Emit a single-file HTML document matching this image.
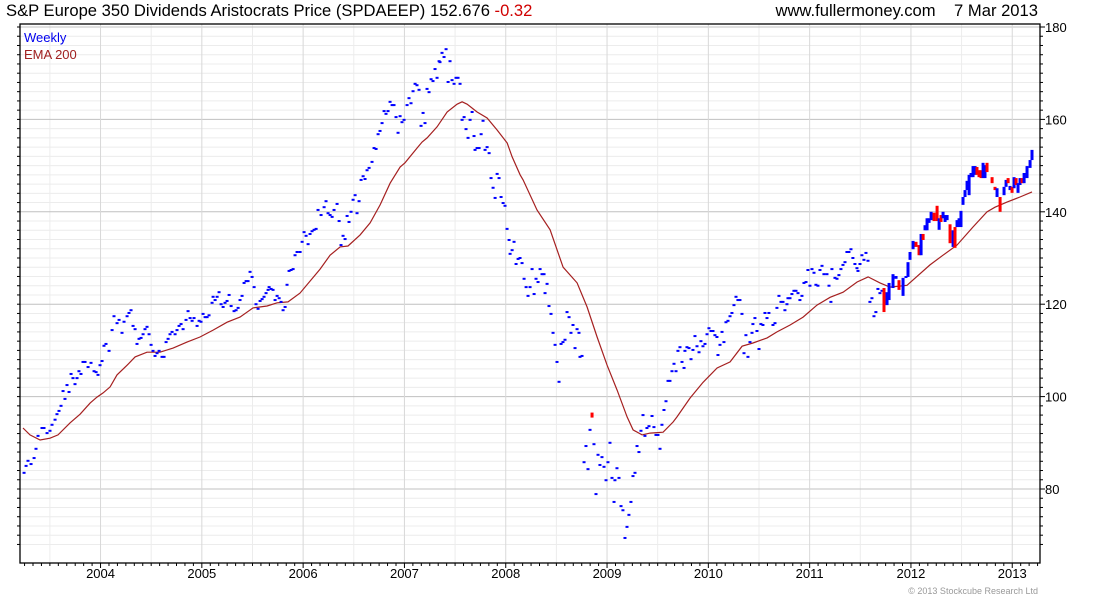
<!DOCTYPE html>
<html><head><meta charset="utf-8">
<style>
html,body{margin:0;padding:0;background:#fff;}
body{width:1100px;height:600px;overflow:hidden;font-family:"Liberation Sans",sans-serif;}
svg text{font-family:"Liberation Sans",sans-serif;}
</style></head>
<body>
<svg id="chart" width="1100" height="600" xmlns="http://www.w3.org/2000/svg">
  <g id="grid"></g>
  <g id="ema"></g>
  <g id="marks"></g>
  <g id="axes"></g>
  <text x="6" y="16" font-size="16.6" fill="#000">S&amp;P Europe 350 Dividends Aristocrats Price (SPDAEEP) 152.676 <tspan fill="#d00000">-0.32</tspan></text>
  <text x="1038" y="16" font-size="16.6" text-anchor="end" fill="#000">www.fullermoney.com&#160;&#160;&#160;&#160;7 Mar 2013</text>
  <text x="24" y="42" font-size="13" fill="#0000ee">Weekly</text>
  <text x="24" y="59" font-size="13" fill="#a02020">EMA 200</text>
  <text x="1038" y="594" font-size="9" text-anchor="end" fill="#999">© 2013 Stockcube Research Ltd</text>
</svg>
<script>
const closeDates=[2003.245,2003.265,2003.284,2003.314,2003.344,2003.363,2003.383,2003.422,2003.442,2003.472,2003.501,2003.521,2003.551,2003.570,2003.590,2003.610,2003.630,2003.649,2003.669,2003.689,2003.709,2003.728,2003.748,2003.768,2003.787,2003.807,2003.827,2003.847,2003.877,2003.906,2003.936,2003.956,2003.975,2003.995,2004.015,2004.034,2004.054,2004.084,2004.114,2004.133,2004.163,2004.183,2004.212,2004.232,2004.262,2004.281,2004.301,2004.321,2004.341,2004.360,2004.380,2004.400,2004.420,2004.439,2004.459,2004.479,2004.499,2004.518,2004.538,2004.558,2004.578,2004.607,2004.627,2004.647,2004.667,2004.686,2004.706,2004.736,2004.755,2004.775,2004.795,2004.815,2004.844,2004.864,2004.884,2004.904,2004.923,2004.953,2004.973,2004.992,2005.012,2005.032,2005.052,2005.071,2005.101,2005.111,2005.131,2005.151,2005.170,2005.190,2005.210,2005.229,2005.249,2005.269,2005.289,2005.318,2005.338,2005.358,2005.377,2005.397,2005.417,2005.437,2005.456,2005.476,2005.496,2005.516,2005.535,2005.555,2005.575,2005.595,2005.614,2005.634,2005.654,2005.664,2005.684,2005.703,2005.723,2005.743,2005.763,2005.782,2005.802,2005.822,2005.841,2005.861,2005.881,2005.901,2005.920,2005.940,2005.970,2005.990,2006.009,2006.029,2006.049,2006.068,2006.088,2006.108,2006.128,2006.147,2006.177,2006.207,2006.226,2006.246,2006.266,2006.286,2006.305,2006.335,2006.355,2006.374,2006.394,2006.414,2006.434,2006.453,2006.473,2006.493,2006.513,2006.532,2006.552,2006.572,2006.592,2006.611,2006.631,2006.651,2006.680,2006.700,2006.720,2006.740,2006.759,2006.779,2006.799,2006.818,2006.838,2006.858,2006.878,2006.897,2006.917,2006.937,2006.957,2006.976,2006.996,2007.026,2007.045,2007.065,2007.085,2007.105,2007.124,2007.144,2007.164,2007.184,2007.203,2007.223,2007.243,2007.263,2007.282,2007.302,2007.322,2007.342,2007.351,2007.371,2007.391,2007.411,2007.431,2007.450,2007.470,2007.490,2007.509,2007.529,2007.549,2007.569,2007.589,2007.608,2007.628,2007.648,2007.668,2007.687,2007.697,2007.717,2007.737,2007.757,2007.776,2007.796,2007.816,2007.836,2007.855,2007.875,2007.895,2007.915,2007.934,2007.954,2007.974,2007.993,2008.013,2008.033,2008.043,2008.063,2008.082,2008.102,2008.122,2008.141,2008.161,2008.181,2008.201,2008.220,2008.240,2008.260,2008.280,2008.299,2008.319,2008.339,2008.358,2008.378,2008.388,2008.408,2008.427,2008.447,2008.467,2008.487,2008.506,2008.526,2008.546,2008.565,2008.585,2008.605,2008.625,2008.644,2008.664,2008.684,2008.704,2008.723,2008.733,2008.753,2008.773,2008.792,2008.812,2008.832,2008.871,2008.891,2008.911,2008.930,2008.950,2008.970,2008.990,2009.009,2009.029,2009.049,2009.069,2009.078,2009.098,2009.118,2009.138,2009.157,2009.177,2009.197,2009.216,2009.236,2009.256,2009.276,2009.296,2009.315,2009.335,2009.355,2009.374,2009.394,2009.414,2009.444,2009.463,2009.483,2009.503,2009.523,2009.542,2009.562,2009.582,2009.602,2009.621,2009.641,2009.661,2009.681,2009.700,2009.720,2009.740,2009.760,2009.769,2009.789,2009.809,2009.829,2009.848,2009.868,2009.888,2009.908,2009.927,2009.947,2009.967,2009.987,2010.006,2010.026,2010.046,2010.065,2010.085,2010.095,2010.115,2010.135,2010.154,2010.174,2010.194,2010.214,2010.233,2010.253,2010.273,2010.292,2010.312,2010.332,2010.352,2010.371,2010.391,2010.411,2010.431,2010.440,2010.460,2010.480,2010.500,2010.519,2010.539,2010.559,2010.579,2010.598,2010.638,2010.658,2010.677,2010.697,2010.717,2010.737,2010.756,2010.776,2010.786,2010.806,2010.825,2010.845,2010.865,2010.885,2010.904,2010.924,2010.944,2010.964,2010.983,2011.003,2011.023,2011.043,2011.062,2011.082,2011.102,2011.122,2011.141,2011.171,2011.191,2011.210,2011.220,2011.250,2011.270,2011.289,2011.309,2011.329,2011.349,2011.368,2011.388,2011.408,2011.427,2011.447,2011.467,2011.477,2011.497,2011.516,2011.536,2011.556,2011.576,2011.595,2011.615,2011.635,2011.654,2011.674,2011.694,2011.714];
const closeValues=[83.5,85.0,86.1,85.4,86.7,88.7,91.5,93.2,93.2,92.1,92.6,93.9,95.0,96.2,96.9,98.0,101.2,99.5,102.5,101.0,104.9,104.0,102.7,104.0,105.5,104.9,107.5,107.5,106.4,107.3,105.5,105.3,104.7,106.8,107.7,111.0,111.4,109.9,114.4,117.4,115.9,116.6,113.8,116.2,117.4,118.1,118.7,115.3,114.6,111.4,112.5,112.7,113.5,114.6,115.1,113.5,111.2,109.9,108.8,109.4,109.9,108.6,108.6,111.8,112.5,113.5,114.0,113.5,114.4,115.3,115.7,114.6,116.6,118.5,117.0,116.4,117.0,115.3,116.4,116.2,117.9,117.2,117.2,117.6,120.3,121.6,120.9,121.6,122.6,120.0,119.4,120.3,120.7,122.0,119.6,118.5,118.7,119.2,120.9,121.8,124.6,125.0,125.0,127.0,125.9,123.7,120.0,119.0,120.7,121.1,121.6,122.4,123.1,123.7,123.3,123.1,120.9,121.8,121.3,120.5,118.7,119.4,124.2,127.2,127.4,127.6,130.6,131.3,131.3,133.5,135.6,134.8,133.0,135.2,135.8,136.1,136.3,140.4,139.3,141.0,142.3,139.7,139.3,138.9,140.4,141.7,138.0,132.8,134.8,134.1,139.1,137.8,140.0,142.6,143.6,139.7,142.3,146.9,147.7,147.1,149.0,149.5,150.8,153.8,153.6,156.8,157.5,159.2,161.8,161.2,161.8,163.8,163.1,163.1,160.5,157.1,160.7,159.4,159.9,163.1,164.6,163.5,166.1,167.7,167.4,166.4,158.6,161.4,159.2,166.6,165.9,168.7,168.3,170.9,169.0,172.6,172.4,174.4,173.5,175.2,168.1,172.6,168.5,167.7,169.0,169.0,167.7,159.9,160.5,157.9,156.0,159.9,161.6,156.4,153.4,153.8,153.8,156.8,159.7,153.4,154.0,152.7,147.3,145.2,143.0,148.2,147.3,143.2,141.9,141.3,136.3,133.9,130.9,131.7,133.5,128.7,129.8,130.0,128.9,125.5,123.7,121.8,123.7,127.6,122.2,125.5,124.8,127.6,126.5,126.5,122.4,124.4,119.6,117.9,113.8,111.2,107.5,103.2,111.4,111.8,112.3,118.3,117.2,113.8,115.5,110.5,114.6,113.8,108.6,108.8,85.8,89.3,84.3,92.8,89.7,78.9,87.4,85.2,86.9,84.8,81.9,85.8,90.0,82.4,77.2,81.9,84.5,82.4,76.3,75.4,69.4,71.8,74.4,77.2,82.8,83.5,89.3,88.0,92.6,96.0,91.5,93.2,93.6,95.8,93.4,91.7,91.7,88.7,93.9,97.1,99.0,103.4,103.4,105.5,107.1,105.5,109.9,110.7,107.5,106.2,109.9,110.7,110.5,108.1,110.1,113.1,110.9,109.6,112.0,110.9,111.4,113.5,114.8,114.2,114.2,113.3,112.9,109.0,111.2,114.0,111.8,116.1,116.4,117.4,118.1,119.8,121.6,120.9,120.9,117.9,109.4,113.3,108.6,111.8,113.8,115.7,117.0,114.2,110.3,115.7,115.5,118.1,117.0,118.1,115.5,115.9,119.2,121.8,120.5,120.5,118.7,120.0,121.3,121.3,122.2,122.9,122.9,122.4,120.9,121.8,124.6,124.8,127.4,124.0,127.6,126.8,124.2,124.0,127.4,128.3,126.5,126.5,124.0,120.5,127.6,125.7,125.5,126.3,127.6,128.5,129.1,131.3,131.3,131.9,130.0,128.7,127.8,127.2,128.7,130.6,129.6,131.1,129.4,120.5,121.3,117.4,118.3,123.3,122.4,122.9];
const candleDates=[2011.734,2011.764,2011.784,2011.823,2011.853,2011.882,2011.922,2011.951,2011.971,2011.991,2012.021,2012.050,2012.080,2012.100,2012.120,2012.139,2012.159,2012.179,2012.199,2012.228,2012.258,2012.278,2012.297,2012.317,2012.337,2012.357,2012.386,2012.416,2012.435,2012.455,2012.475,2012.494,2012.514,2012.534,2012.554,2012.574,2012.593,2012.613,2012.633,2012.652,2012.672,2012.692,2012.712,2012.731,2012.751,2012.801,2012.830,2012.850,2012.880,2012.919,2012.939,2012.959,2012.978,2012.998,2013.018,2013.038,2013.057,2013.077,2013.097,2013.117,2013.146,2013.176,2013.195];
const candleOpen=[123.5,119.8,120.9,123.5,125.5,125.2,121.8,125.7,125.9,129.6,131.9,133.5,132.8,130.6,135.2,136.0,136.0,137.6,138.2,139.8,141.3,136.1,139.3,138.6,137.8,138.2,137.3,132.4,136.7,136.7,136.7,136.7,141.5,143.2,144.7,143.6,147.5,147.5,148.0,149.7,149.0,149.0,147.3,147.3,150.6,147.5,145.4,143.2,143.2,143.6,145.4,147.3,144.7,145.4,145.1,147.3,144.1,145.8,147.3,146.2,147.3,149.5,151.2];
const candleClose=[118.3,122.6,124.6,126.5,126.1,123.1,125.7,126.1,129.1,131.3,133.7,132.4,130.6,135.2,133.9,137.1,138.6,138.6,140.0,138.0,138.0,138.6,137.8,140.0,139.3,139.3,133.2,136.0,132.2,138.2,138.6,140.2,143.2,144.7,146.7,148.0,148.4,149.9,149.9,148.0,147.5,147.3,150.6,150.1,148.6,146.2,144.7,145.1,140.0,145.4,146.9,146.2,145.6,144.1,147.5,145.8,146.2,147.3,146.2,148.4,149.9,151.2,153.4];
const spikeDates=[2008.852];
const spikeValues=[96.0];
const emaDates=[2003.235,2003.304,2003.403,2003.501,2003.580,2003.699,2003.798,2003.897,2003.965,2004.025,2004.094,2004.163,2004.262,2004.341,2004.459,2004.587,2004.716,2004.854,2004.982,2005.111,2005.249,2005.377,2005.505,2005.644,2005.743,2005.851,2005.969,2006.167,2006.266,2006.365,2006.443,2006.562,2006.661,2006.760,2006.858,2006.957,2007.006,2007.125,2007.174,2007.224,2007.322,2007.421,2007.520,2007.569,2007.619,2007.717,2007.816,2007.915,2008.014,2008.063,2008.142,2008.171,2008.309,2008.438,2008.566,2008.704,2008.803,2008.902,2009.001,2009.099,2009.198,2009.257,2009.346,2009.425,2009.553,2009.652,2009.691,2009.820,2009.948,2010.086,2010.215,2010.333,2010.441,2010.580,2010.678,2010.807,2010.935,2011.073,2011.202,2011.330,2011.468,2011.577,2011.695,2011.793,2011.961,2012.188,2012.316,2012.455,2012.613,2012.751,2012.830,2012.948,2013.077,2013.195];
const emaValues=[93.2,91.7,90.6,91.0,91.7,94.3,96.2,98.6,99.9,100.8,102.1,104.7,106.8,108.6,109.6,109.6,110.5,111.8,112.9,114.4,116.1,117.2,119.2,119.6,120.3,120.5,122.4,127.6,130.6,132.4,132.6,135.0,137.6,141.5,146.2,149.7,150.6,153.8,155.1,156.0,158.4,161.6,163.3,163.8,163.3,161.6,160.3,157.7,154.9,151.9,148.0,146.9,140.4,136.1,128.0,124.6,119.4,112.9,106.8,101.4,95.6,92.8,91.7,92.1,92.3,94.5,95.6,99.7,103.1,106.2,107.5,110.9,111.6,112.7,114.0,115.5,117.2,119.8,121.5,122.6,124.8,125.9,124.6,123.7,124.1,128.5,130.6,132.8,136.7,140.0,141.0,142.1,143.2,144.3];
const yTicks=[80,100,120,140,160,180];
const xYears=[2004,2005,2006,2007,2008,2009,2010,2011,2012,2013];

const NS='http://www.w3.org/2000/svg';
const L=20,R=1040,T=24,B=563;
const X0=2003.205,X1=2013.274;
const xs=t=>L+(t-X0)/(X1-X0)*(R-L);
const ys=v=>27+(180-v)*4.62;
function mk(tag,attrs,parent){const e=document.createElementNS(NS,tag);for(const k in attrs)e.setAttribute(k,attrs[k]);parent.appendChild(e);return e;}
const grid=document.getElementById('grid'),axes=document.getElementById('axes'),marks=document.getElementById('marks'),emaG=document.getElementById('ema');

for(let v=68;v<=182;v+=2){const y=ys(v);if(y<T||y>B)continue;if(v%20===0)continue;
  const g=mk('line',{x1:L,x2:R,y1:y,y2:y,stroke:'#ececec','stroke-width':1},grid);
  
  
  const tk=mk('line',{x1:R,x2:R+3,y1:y,y2:y,stroke:'#000','stroke-width':1},axes);
  
  
}
for(let yr=2003;yr<=2013;yr++){const x=xs(yr+0.5);if(x<L||x>R)continue;
  const g=mk('line',{x1:x,x2:x,y1:T,y2:B,stroke:'#ececec','stroke-width':1},grid);
  
  
}
yTicks.forEach(v=>{const y=ys(v);
  const g=mk('line',{x1:L,x2:R,y1:y,y2:y,stroke:'#c0c0c0','stroke-width':1},grid);
  
  
  const tk=mk('line',{x1:R,x2:R+5,y1:y,y2:y,stroke:'#000','stroke-width':1},axes);
  
  
  const t=mk('text',{x:R+5,y:y+5,'font-size':13,fill:'#000'},axes);t.textContent=v;
  
  
});
xYears.forEach(yr=>{const x=xs(yr);
  const g=mk('line',{x1:x,x2:x,y1:T,y2:B,stroke:'#d8d8d8','stroke-width':1},grid);
  
  
  const t=mk('text',{x:x,y:B+15,'font-size':13,'text-anchor':'middle',fill:'#000'},axes);t.textContent=yr;
  
  
});
for(let m=0;m<125;m++){const t=2003+m/12;const x=xs(t);if(x<L||x>R)continue;
  const tk=mk('line',{x1:x,x2:x,y1:B,y2:B+(m%12===0?5:3),stroke:'#000','stroke-width':1},axes);
  
  
}
for(let v=68;v<=182;v+=2){const y=ys(v);if(y<T||y>B)continue;
  const tk=mk('line',{x1:L-3,x2:L,y1:y,y2:y,stroke:'#000','stroke-width':1},axes);
  
  
}
const frame=mk('rect',{x:L,y:T,width:R-L,height:B-T,fill:'none',stroke:'#000','stroke-width':1.3},axes);



let d='';emaDates.forEach((t,i)=>{d+=(i?'L':'M')+xs(t).toFixed(1)+' '+ys(emaValues[i]).toFixed(1);});
const ep=mk('path',{d:d,fill:'none',stroke:'#a52020','stroke-width':1.2},emaG);



closeDates.forEach((t,i)=>{
  const r=mk('rect',{x:xs(t)-1.5,y:ys(closeValues[i])-1,width:3,height:2,fill:'#0000ff'},marks);
  
  
});
spikeDates.forEach((t,i)=>{
  const r=mk('rect',{x:xs(t)-1.5,y:ys(spikeValues[i])-2.5,width:3,height:5,fill:'#ff0000'},marks);
  
  
});
candleDates.forEach((t,i)=>{
  const o=candleOpen[i],c=candleClose[i];
  const top=ys(Math.max(o,c)),bot=ys(Math.min(o,c));
  const r=mk('rect',{x:xs(t)-1.5,y:top,width:3,height:Math.max(2,bot-top),fill:c>=o?'#0000ff':'#ff0000'},marks);
  
  
});
</script>
</body></html>
